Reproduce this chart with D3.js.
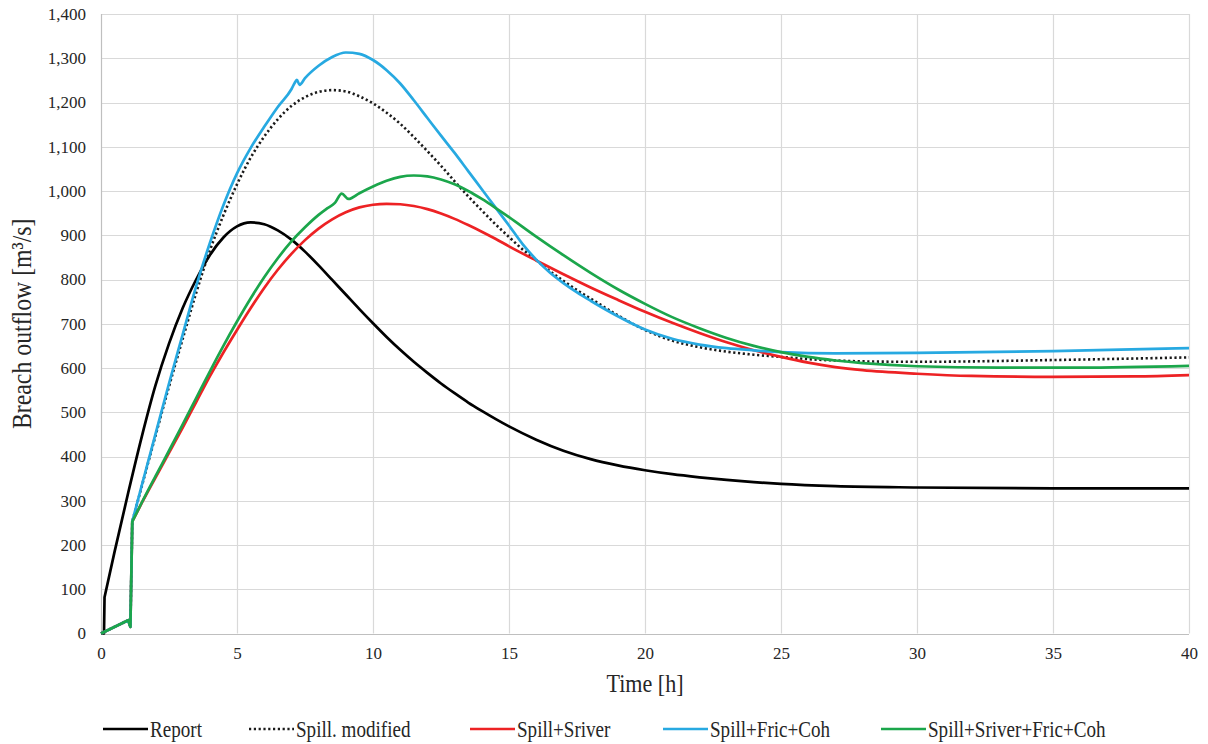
<!DOCTYPE html>
<html>
<head>
<meta charset="utf-8">
<script src="https://cdn.jsdelivr.net/npm/d3@7"></script>
<style>
  html, body { margin: 0; padding: 0; background: #fff; }
  svg { display: block; }
  text { font-family: "Liberation Serif", "Times New Roman", serif; fill: #262626; }
</style>
</head>
<body>
<svg id="chart" width="1208" height="744"></svg>
<script>
// Breach outflow hydrographs, [time (h), discharge (m³/s)]
const report = [
  [0,0],[0.11,0],[0.13,82],[0.5,185],[1,318],[1.5,445],[2,560],[2.5,655],[3,735],
  [3.5,800],[4,855],[4.5,895],[5,920],[5.5,929],[6,925],[6.5,911],[7,890],[7.5,863],
  [8,832],[8.5,799],[9,766],[9.5,733],[10,701],[10.5,670],[11,641],[11.5,614],[12,589],
  [12.5,565],[13,543],[13.5,522],[14,503],[14.5,485],[15,468],[16,438],[17,413],
  [18,394],[19,380],[20,369],[21,360],[22,353],[23,347],[24,342],[25,338],[27,333],
  [30,330],[35,328],[40,328]
];
const spillModified = [
  [0,0],[1.0,30],[1.08,15],[1.15,253],[1.5,333],[2,446],[2.5,558],[3,665],[3.5,770],
  [4,865],[4.5,945],[5,1015],[5.5,1075],[6,1123],[6.5,1162],[7,1192],[7.5,1212],
  [8,1224],[8.5,1228],[9,1225],[9.5,1214],[10,1198],[10.5,1177],[11,1152],[11.5,1122],
  [12,1090],[12.5,1057],[13,1022],[13.5,988],[14,956],[14.5,925],[15,896],[15.5,868],
  [16,844],[16.5,819],[17,797],[17.5,776],[18,757],[19,719],[20,686],[21,662],[22,647],
  [23,637],[24,630],[25,625],[26,620],[27,617],[28,615],[30,614],[35,618],[40,624]
];
const spillSriver = [
  [0,0],[1.0,30],[1.08,15],[1.15,253],[1.5,295],[2,352],[2.5,408],[3,465],[3.5,523],
  [4,581],[4.5,635],[5,686],[5.5,735],[6,781],[6.5,822],[7,858],[7.5,889],[8,915],
  [8.5,936],[9,952],[9.5,963],[10,969],[10.5,971],[11,970],[11.5,966],[12,959],
  [12.5,949],[13,937],[13.5,923],[14,908],[14.5,892],[15,875],[16,843],[17,812],
  [18,782],[19,754],[20,727],[21,702],[22,679],[23,658],[24,640],[25,625],[26,612],
  [27,602],[28,595],[30,587],[32,582],[35,580],[38,581],[40,584]
];
const spillFricCoh = [
  [0,0],[1.0,30],[1.08,15],[1.15,253],[1.5,335],[2,450],[2.5,565],[3,675],[3.5,785],
  [4,882],[4.5,968],[5,1040],[5.5,1097],[6,1145],[6.5,1190],[7,1230],[7.12,1244],
  [7.2,1251],[7.3,1240],[7.5,1255],[8,1283],[8.5,1303],[9,1313],[9.5,1310],[10,1296],
  [10.5,1273],[11,1243],[11.5,1205],[12,1165],[12.5,1125],[13,1086],[13.5,1045],
  [14,1004],[14.5,963],[15,922],[15.5,880],[16,845],[16.5,816],[17,792],[17.5,771],
  [18,752],[19,717],[20,687],[21,666],[22,653],[23,645],[24,640],[25,636],[27,633],
  [30,634],[35,638],[40,645]
];
const spillSriverFricCoh = [
  [0,0],[1.0,30],[1.08,15],[1.15,253],[1.5,296],[2,355],[2.5,413],[3,472],[3.5,532],
  [4,592],[4.5,650],[5,705],[5.5,757],[6,805],[6.5,848],[7,886],[7.5,918],[8,946],
  [8.3,960],[8.6,973],[8.85,994],[9.1,982],[9.5,995],[10,1010],[10.5,1023],[11,1032],
  [11.5,1035],[12,1033],[12.5,1026],[13,1015],[13.5,1000],[14,982],[14.5,962],[15,941],
  [16,897],[17,855],[18,815],[19,778],[20,745],[21,715],[22,690],[23,668],[24,650],
  [25,636],[26,625],[27,617],[28,611],[30,604],[33,601],[36,601],[40,605]
];

const seriesNames = ["Report", "Spill. modified", "Spill+Sriver", "Spill+Fric+Coh", "Spill+Sriver+Fric+Coh"];
const seriesData = [report, spillModified, spillSriver, spillFricCoh, spillSriverFricCoh];
const seriesColors = ["#000000", "#1a1a1a", "#ed2224", "#27a9e1", "#1ba64b"];
const seriesDash = [null, "2.2,2.6", null, null, null];

const xTicks = [0, 5, 10, 15, 20, 25, 30, 35, 40];
const yTicks = [0, 100, 200, 300, 400, 500, 600, 700, 800, 900, 1000, 1100, 1200, 1300, 1400];
const xTitle = "Time [h]";
const yTitle = "Breach outflow [m³/s]";

const margin = { left: 101, right: 19, top: 14, bottom: 110.5 };
const W = 1208, H = 744;
const svg = d3.select("#chart");
const serif = '"Liberation Serif", "Times New Roman", serif';

const x = d3.scaleLinear().domain([0, 40]).range([margin.left, W - margin.right]);
const y = d3.scaleLinear().domain([0, 1400]).range([H - margin.bottom, margin.top]);

// grid
const grid = svg.append("g");
grid.selectAll("line.h").data(yTicks).join("line")
  .attr("x1", x(0)).attr("x2", x(40))
  .attr("y1", d => Math.round(y(d)) + 0.5).attr("y2", d => Math.round(y(d)) + 0.5)
  .attr("stroke", d => d === 0 ? "#bfbfbf" : "#d9d9d9").attr("stroke-width", 1.2);
grid.selectAll("line.v").data(xTicks).join("line")
  .attr("y1", y(0)).attr("y2", y(1400))
  .attr("x1", d => Math.round(x(d)) + 0.5).attr("x2", d => Math.round(x(d)) + 0.5)
  .attr("stroke", d => d === 0 ? "#bfbfbf" : "#d9d9d9").attr("stroke-width", 1.2);

// axes (labels only, no tick marks)
const yAxis = svg.append("g").attr("transform", `translate(${x(0)},0)`)
  .call(d3.axisLeft(y).tickValues(yTicks).tickSize(0).tickPadding(15).tickFormat(d3.format(",")));
yAxis.attr("font-family", serif).attr("font-size", 17);
yAxis.select(".domain").remove();
yAxis.selectAll("text").attr("fill", "#262626");

const xAxis = svg.append("g").attr("transform", `translate(0,${y(0)})`)
  .call(d3.axisBottom(x).tickValues(xTicks).tickSize(0).tickPadding(13));
xAxis.attr("font-family", serif).attr("font-size", 17);
xAxis.select(".domain").remove();
xAxis.selectAll("text").attr("fill", "#262626");

// series: the sharp breach-start step is drawn straight, the hydrograph body smoothed
const straight = d3.line().x(d => x(d[0])).y(d => y(d[1]));
const smooth = d3.line().x(d => x(d[0])).y(d => y(d[1])).curve(d3.curveMonotoneX);
const plot = svg.append("g");
seriesData.forEach((data, i) => {
  let k = 1, best = -Infinity;
  for (let j = 1; j < data.length; j++) {
    const s = (data[j][1] - data[j - 1][1]) / (data[j][0] - data[j - 1][0]);
    if (s > best) { best = s; k = j; }
  }
  const d = straight(data.slice(0, k + 1)) + "L" + smooth(data.slice(k)).slice(1);
  plot.append("path")
    .attr("d", d)
    .attr("fill", "none")
    .attr("stroke", seriesColors[i])
    .attr("stroke-width", i === 1 ? 2.6 : 2.7)
    .attr("stroke-dasharray", seriesDash[i])
    .attr("stroke-linejoin", "round");
});

// titles (narrow serif look)
svg.append("text")
  .attr("transform", `translate(${(x(0) + x(40)) / 2},692) scale(0.85,1)`)
  .attr("text-anchor", "middle")
  .style("font-size", "26px")
  .text(xTitle);

svg.append("text")
  .attr("transform", `translate(31,${(y(0) + y(1400)) / 2}) rotate(-90) scale(0.85,1)`)
  .attr("text-anchor", "middle")
  .style("font-size", "28px")
  .text(yTitle);

// legend
const legendX = [103, 249, 470, 663, 881];
const legend = svg.append("g");
seriesNames.forEach((name, i) => {
  const g = legend.append("g").attr("transform", `translate(${legendX[i]},0)`);
  g.append("line")
    .attr("x1", 0).attr("x2", 45).attr("y1", 729).attr("y2", 729)
    .attr("stroke", seriesColors[i]).attr("stroke-width", 2.7)
    .attr("stroke-dasharray", seriesDash[i]);
  g.append("text")
    .attr("transform", `translate(47,737) scale(0.83,1)`)
    .style("font-size", "23px")
    .text(name);
});
</script>
</body>
</html>
